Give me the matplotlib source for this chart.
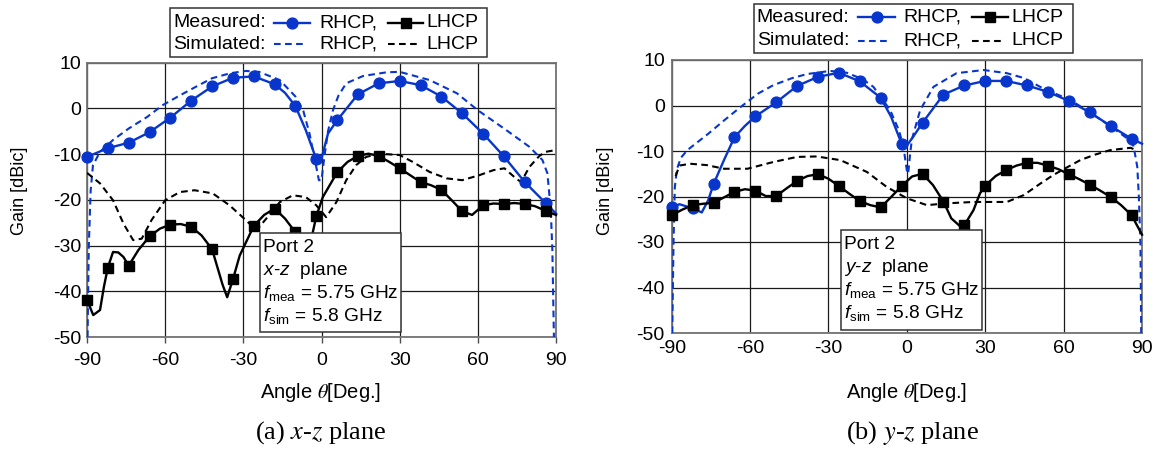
import matplotlib
matplotlib.use("Agg")
import matplotlib.pyplot as plt
from matplotlib.lines import Line2D
from matplotlib.patches import Rectangle

plt.rcParams['font.family'] = ['Liberation Sans', 'DejaVu Sans']
plt.rcParams['mathtext.fontset'] = 'custom'
plt.rcParams['mathtext.rm'] = 'Liberation Sans'
plt.rcParams['mathtext.it'] = 'Liberation Sans:italic'
plt.rcParams['axes.unicode_minus'] = False

BLUE = '#0836cc'

# ---- data ------------------------------------------------------------
# measured points (markers) every 8 deg
ang_meas = [-90, -82, -74, -66, -58, -50, -42, -34, -26, -18, -10, -2,
            6, 14, 22, 30, 38, 46, 54, 62, 70, 78, 86]

# (a) x-z plane
xz_rhcp_meas = [-10.6, -8.7, -7.5, -5.2, -2.0, 1.7, 4.8, 6.7, 7.0, 5.3, 0.5, -11.1,
                -2.6, 3.1, 5.5, 6.0, 5.1, 2.6, -1.1, -5.5, -10.5, -16.1, -20.7]
xz_rhcp_line_ang = [-14, -6, -0.5, 2.5, 90]
xz_rhcp_line = [3.4, -4.8, -12.0, -5.5, -23.0]

xz_lhcp_meas = [-41.9, -34.8, -34.4, -28.0, -25.4, -25.9, -30.8, -37.4, -25.7, -21.9, -27.1, -23.6,
                -14.0, -10.4, -10.4, -13.1, -16.1, -17.8, -22.5, -21.2, -20.9, -20.9, -22.4]
xz_lhcp_line_ang = [-87.6, -85, -83.5, -80, -78, -76, -70.3, -62, -54, -46, -38, -36.2, -31.4,
                    -22, -14, -6, -3.5, 0.5, 10, 18, 26, 34, 42, 50, 57.8, 66, 74, 82, 90]
xz_lhcp_line = [-45.2, -44.1, -39.0, -31.4, -31.5, -32.5, -31.0, -26.3, -25.3, -27.8, -38.5, -41.3, -32.2,
                -23.3, -24.1, -30.5, -27.5, -19.4, -11.7, -9.9, -11.7, -14.6, -16.8, -20.1, -23.3,
                -20.8, -20.7, -21.4, -23.3]

xz_rhcp_sim_ang = [-89.8, -89.3, -88.6, -87.7, -85, -80, -74, -67, -61, -54.5, -48, -42, -35, -29,
                   -24, -16, -10, -7, -4.6, -2, -1, 0, 1, 2.5, 4.4, 6.5, 9.5, 16, 25, 30, 41.5, 52,
                   60, 70.8, 79.8, 84.8, 86.7, 88, 88.6, 89.2]
xz_rhcp_sim = [-50, -30, -18, -12.4, -9.5, -6.9, -4.4, -1.9, 0.7, 2.8, 4.8, 6.6, 7.7, 8.2,
               8.0, 6.2, 2.6, -0.5, -5.5, -12.8, -15.7, -15.7, -11.0, -5.0, -0.4, 2.8, 5.5, 7.1, 7.9, 8.0, 6.2, 3.3,
               -0.4, -4.7, -8.4, -11.3, -14.2, -22.3, -31.0, -50]

xz_lhcp_sim_ang = [-90, -85, -80, -76, -72.3, -69, -65.2, -60, -54.4, -48.7, -41.7, -35.3, -28.9, -25,
                   -21.2, -16, -11, -6, -2, 1.8, 5.7, 9.5, 13.3, 17.2, 22.3, 30, 35, 41.5, 48, 54,
                   60.6, 66, 70.2, 74.6, 76.6, 79.8, 83.6, 86, 90]
xz_lhcp_sim = [-14.1, -16.4, -20.1, -25.2, -28.8, -28.5, -24.4, -20.1, -18.3, -17.9, -18.6, -21.2, -24.5, -26.7,
               -24.1, -20.5, -19.0, -19.4, -21.2, -23.8, -20.5, -15.7, -12.4, -10.6, -9.9, -10.2, -11.7, -13.9, -15.3, -15.7,
               -14.6, -13.5, -13.1, -15.3, -16.1, -12.8, -10.4, -9.5, -9.1]

# (b) y-z plane
yz_rhcp_meas = [-22.4, -22.6, -17.3, -7.0, -2.4, 0.7, 4.3, 6.3, 7.2, 5.3, 1.7, -8.4,
                -3.8, 2.4, 4.4, 5.4, 5.4, 4.4, 3.0, 1.0, -1.5, -4.5, -7.3]
yz_rhcp_line_ang = [-87, -78.5, -76, -70, -62, -6, -0.5, 2.5, 90]
yz_rhcp_line = [-21.7, -23.5, -20.8, -12.0, -4.5, -2.5, -9.2, -6.8, -8.4]

yz_lhcp_meas = [-24.1, -21.9, -21.4, -19.0, -18.7, -19.9, -16.6, -15.1, -17.7, -21.0, -22.4, -17.7,
                -15.0, -21.1, -26.3, -17.6, -14.2, -12.6, -13.2, -15.1, -17.4, -20.1, -24.1]
yz_lhcp_line_ang = [-86, -78, -62, -54, -46, -38, -30, -22, -14, -6, 2, 10, 17, 20.5, 25.5, 28,
                    34, 42, 50, 58, 66, 74, 82, 90]
yz_lhcp_line = [-22.9, -21.6, -18.4, -19.9, -18.2, -15.5, -16.1, -19.4, -21.9, -20.1, -15.6, -17.5,
                -24.8, -26.6, -23.0, -19.3, -15.5, -13.2, -12.6, -14.0, -16.2, -18.7, -21.9, -28.4]

yz_rhcp_sim_ang = [-89.8, -89.3, -88.8, -88, -86.5, -84, -80, -76, -70, -64, -57, -51, -44, -38.3,
                   -29.4, -23, -17, -12.8, -6.4, -3, -1.3, 0, 0.5, 1.2, 1.9, 5.1, 10.2, 19, 29.4,
                   38.3, 45, 51, 56, 62.6, 70, 78, 85, 86.8, 88.2, 88.8, 89.4, 89.7]
yz_rhcp_sim = [-50, -30, -18, -14, -11.5, -9.8, -8.0, -6.2, -3.3, -0.5, 2.6, 4.5, 6.0, 6.9,
               7.6, 7.2, 5.8, 4.1, -1.0, -5.5, -9.1, -14.3, -15.0, -11.0, -7.5, -1.0, 4.1, 7.1, 7.8,
               7.1, 6.0, 4.1, 2.8, 1.2, -1.5, -4.6, -7.5, -9.0, -13.5, -20.1, -30.4, -50]

yz_lhcp_sim_ang = [-88.5, -87, -83, -76.6, -70, -61, -51, -42, -34.5, -25.5, -15.3, -7.7, 0, 7.7,
                   15.3, 25.5, 38.3, 44.7, 51, 56, 60, 66.4, 72, 77.9, 85.6, 87.8]
yz_lhcp_sim = [-15.5, -13.2, -12.8, -13.1, -13.9, -13.9, -12.4, -11.3, -11.2, -12.0, -14.6, -17.9, -20.4, -21.9,
               -21.5, -21.2, -21.2, -19.7, -17.2, -15.3, -14.0, -12.0, -10.8, -9.8, -9.3, -9.8]

x_ticks = [-90, -60, -30, 0, 30, 60, 90]
y_ticks = [-50, -40, -30, -20, -10, 0, 10]

# ---- helpers ---------------------------------------------------------
W, H = 1159, 450
LW_M, LW_S = 1.7, 1.5
DASH = (3.2, 2.1)


def fx(px):
    return px / W


def fy(py):
    return 1 - py / H


def merged(a1, v1, a2, v2):
    pts = sorted(zip(list(a1) + list(a2), list(v1) + list(v2)))
    return [p[0] for p in pts], [p[1] for p in pts]


def panel(ax, rm, rl_a, rl, lm, ll_a, ll, rs_a, rs, ls_a, ls, ticklen, pad, ypad):
    a, v = merged(ang_meas, rm, rl_a, rl)
    ax.plot(a, v, color=BLUE, lw=LW_M, clip_on=False, zorder=4)
    ax.plot(ang_meas, rm, 'o', color=BLUE, ms=7.8, clip_on=False, zorder=5)
    a, v = merged(ang_meas, lm, ll_a, ll)
    ax.plot(a, v, color='black', lw=LW_M, clip_on=False, zorder=4)
    ax.plot(ang_meas, lm, 's', color='black', ms=7, clip_on=False, zorder=5)
    ax.plot(rs_a, rs, color=BLUE, lw=LW_S, dashes=DASH, zorder=3)
    ax.plot(ls_a, ls, color='black', lw=LW_S, dashes=DASH, zorder=3)
    ax.set_xlim(-90, 90)
    ax.set_ylim(-50, 10)
    ax.set_xticks(x_ticks)
    ax.set_yticks(y_ticks)
    ax.grid(True, color='0.1', lw=0.9)
    ax.set_axisbelow(True)
    for s in ax.spines.values():
        s.set_color('0.45')
        s.set_linewidth(1.3)
    ax.tick_params(axis='x', direction='out', length=ticklen, width=1, color='0.3',
                   pad=pad, labelsize=14)
    ax.tick_params(axis='y', length=0, pad=ypad, labelsize=14)


def legend(fig, box, y1, y2, xs):
    x0, t0, x1, b0 = box
    fig.add_artist(Rectangle((fx(x0), fy(b0)), fx(x1 - x0), fy(t0) - fy(b0),
                             transform=fig.transFigure, fc='white', ec='0.2', lw=1.1))
    ts = 14
    fig.text(fx(xs[0]), fy(y1), 'Measured:', fontsize=ts, va='center')
    fig.text(fx(xs[0]), fy(y2), 'Simulated:', fontsize=ts, va='center')
    # measured RHCP / LHCP samples
    fig.add_artist(Line2D([fx(xs[1]), fx(xs[2])], [fy(y1)] * 2, color=BLUE, lw=LW_M,
                          transform=fig.transFigure))
    fig.add_artist(Line2D([fx((xs[1] + xs[2]) / 2)], [fy(y1)], marker='o', ms=7.8, color=BLUE,
                          transform=fig.transFigure))
    fig.text(fx(xs[3]), fy(y1), 'RHCP,', fontsize=ts, va='center')
    fig.add_artist(Line2D([fx(xs[4]), fx(xs[5])], [fy(y1)] * 2, color='black', lw=LW_M,
                          transform=fig.transFigure))
    fig.add_artist(Line2D([fx((xs[4] + xs[5]) / 2)], [fy(y1)], marker='s', ms=7, color='black',
                          transform=fig.transFigure))
    fig.text(fx(xs[6]), fy(y1), 'LHCP', fontsize=ts, va='center')
    # simulated samples
    fig.add_artist(Line2D([fx(xs[1]), fx(xs[1] + 30)], [fy(y2)] * 2, color=BLUE, lw=LW_S,
                          dashes=DASH, transform=fig.transFigure))
    fig.text(fx(xs[3]), fy(y2), 'RHCP,', fontsize=ts, va='center')
    fig.add_artist(Line2D([fx(xs[4]), fx(xs[4] + 30)], [fy(y2)] * 2, color='black', lw=LW_S,
                          dashes=DASH, transform=fig.transFigure))
    fig.text(fx(xs[6]), fy(y2), 'LHCP', fontsize=ts, va='center')


def info_box(fig, box, tx, ys, plane):
    x0, t0, x1, b0 = box
    fig.add_artist(Rectangle((fx(x0), fy(b0)), fx(x1 - x0), fy(t0) - fy(b0),
                             transform=fig.transFigure, fc='white', ec='0.2', lw=1.1))
    ts = 13.8
    fig.text(fx(tx), fy(ys[0]), 'Port 2', fontsize=ts, va='center')
    fig.text(fx(tx), fy(ys[1]), plane + '  plane', fontsize=ts, va='center')
    fig.text(fx(tx), fy(ys[2]), r'$f_{\mathrm{mea}}$ = 5.75 GHz', fontsize=ts, va='center')
    fig.text(fx(tx), fy(ys[3]), r'$f_{\mathrm{sim}}$ = 5.8 GHz', fontsize=ts, va='center')


# ---- figure ----------------------------------------------------------
fig = plt.figure(figsize=(11.59, 4.5), dpi=100)

ax1 = fig.add_axes([fx(87), fy(337), fx(556 - 87), fy(62.7) - fy(337)])
panel(ax1, xz_rhcp_meas, xz_rhcp_line_ang, xz_rhcp_line,
      xz_lhcp_meas, xz_lhcp_line_ang, xz_lhcp_line,
      xz_rhcp_sim_ang, xz_rhcp_sim, xz_lhcp_sim_ang, xz_lhcp_sim, 4.5, 6.3, 4)

ax2 = fig.add_axes([fx(671.7), fy(333), fx(1142 - 671.7), fy(60) - fy(333)])
panel(ax2, yz_rhcp_meas, yz_rhcp_line_ang, yz_rhcp_line,
      yz_lhcp_meas, yz_lhcp_line_ang, yz_lhcp_line,
      yz_rhcp_sim_ang, yz_rhcp_sim, yz_lhcp_sim_ang, yz_lhcp_sim, 0, 5.0, 5)

# axis labels
for cx, gx in [(321, 20), (907, 605)]:
    fig.text(fx(cx), fy(392), r'Angle $\theta$[Deg.]', fontsize=14.5, ha='center', va='center',
             math_fontfamily='stix')
    fig.text(fx(gx), fy(191), 'Gain [dBic]', fontsize=13, rotation=90, ha='center', va='center')

# legends
legend(fig, (170, 8.3, 487.3, 57.3), 22.7, 44.3, [173.3, 274, 310, 319.3, 388, 423.3, 426.7])
legend(fig, (754.3, 4, 1072.7, 52.7), 17.3, 40.7, [756.7, 858.3, 895, 903.3, 971.7, 1008.3, 1011.7])

# text boxes
info_box(fig, (260, 233.3, 401, 332.3), 263, [248, 270.5, 293, 316], r'$x$-$z$')
info_box(fig, (841, 230, 982.3, 330), 844, [245, 267, 290, 313], r'$y$-$z$')

# captions
fig.text(fx(321), fy(433), '(a) $x$-$z$ plane', fontsize=19, family='Liberation Serif',
         math_fontfamily='stix', ha='center', va='center')
fig.text(fx(912), fy(433), '(b) $y$-$z$ plane', fontsize=19, family='Liberation Serif',
         math_fontfamily='stix', ha='center', va='center')

fig.savefig('out.png', dpi=100)
